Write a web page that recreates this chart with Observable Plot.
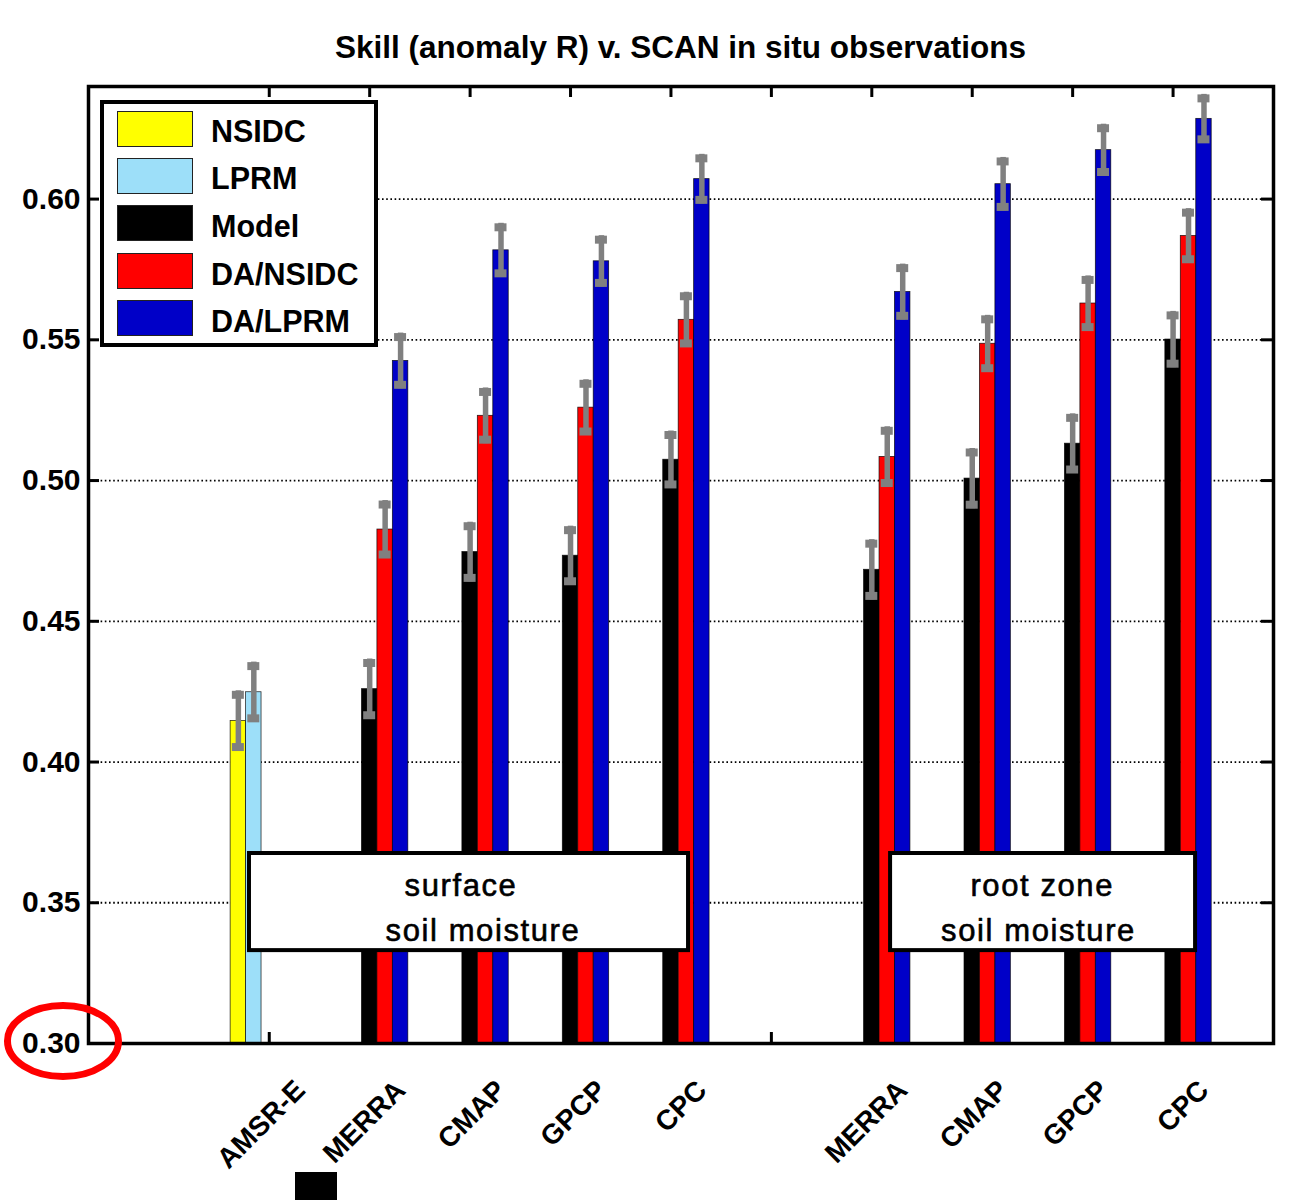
<!DOCTYPE html>
<html>
<head>
<meta charset="utf-8">
<script src="https://cdn.jsdelivr.net/npm/d3@7"></script>
<script src="https://cdn.jsdelivr.net/npm/@observablehq/plot@0.6"></script>
<style>
  body { margin: 0; background: #fff; }
  #wrap { position: relative; width: 1292px; height: 1200px; overflow: hidden;
          font-family: "Liberation Sans", Arial, Helvetica, sans-serif; color: #000; }
  #title { margin-left: 88px; width: 1185px; height: 72px; box-sizing: border-box;
           padding-top: 32px; text-align: center; font-weight: bold; font-size: 31.5px; line-height: 1; }
  #chart svg { display: block; }
  #legend { position: absolute; left: 100px; top: 100px; width: 278px; height: 247px;
            box-sizing: border-box; border: 4px solid #000; background: #fff; }
  .row { position: absolute; left: 13px; height: 36px; display: flex; align-items: center; }
  .sw { width: 76px; height: 36px; box-sizing: border-box; border: 1px solid #222; }
  .lab { margin-left: 18px; font-weight: bold; font-size: 30.5px; padding-top: 6px; }
  #overlay { position: absolute; left: 0; top: 0; pointer-events: none; }
  #blk { position: absolute; left: 295px; top: 1172px; width: 42px; height: 28px; background: #000; }
</style>
</head>
<body>
<div id="wrap">
  <div id="title">Skill (anomaly R) v. SCAN in situ observations</div>
  <div id="chart"></div>
  <div id="legend"></div>
  <div id="blk"></div>
  <svg id="overlay" width="1292" height="1200">
    <ellipse cx="63" cy="1041" rx="55.5" ry="35.5" fill="none" stroke="#ff0000" stroke-width="7"></ellipse>
  </svg>
</div>
<script>
// ---- data ----
const groupLabels = ["AMSR-E", "MERRA", "CMAP", "GPCP", "CPC", "", "MERRA", "CMAP", "GPCP", "CPC"];
const groupPos = [1, 2, 3, 4, 5, 6, 7, 8, 9, 10];
const seriesNames = ["NSIDC", "LPRM", "Model", "DA/NSIDC", "DA/LPRM"];
const seriesColors = ["#ffff00", "#9ddff9", "#000000", "#ff0000", "#0000c8"];

// skill values per group (null = no bar)
const nsidcR    = [0.4146, null, null, null, null, null, null, null, null, null];
const lprmR     = [0.4248, null, null, null, null, null, null, null, null, null];
const modelR    = [null, 0.4259, 0.4746, 0.4733, 0.5074, null, 0.4683, 0.5007, 0.5131, 0.5501];
const daNsidcR  = [null, 0.4826, 0.5230, 0.5259, 0.5571, null, 0.5084, 0.5486, 0.5629, 0.5869];
const daLprmR   = [null, 0.5425, 0.5818, 0.5779, 0.6071, null, 0.5670, 0.6053, 0.6174, 0.6285];

// error bar half-widths
const nsidcErr   = [0.0107, null, null, null, null, null, null, null, null, null];
const lprmErr    = [0.0107, null, null, null, null, null, null, null, null, null];
const modelErr   = [null, 0.0107, 0.0106, 0.0105, 0.0102, null, 0.0107, 0.0107, 0.0106, 0.0100];
const daNsidcErr = [null, 0.0103, 0.0099, 0.0099, 0.0098, null, 0.0107, 0.0101, 0.0098, 0.0097];
const daLprmErr  = [null, 0.0099, 0.0096, 0.0091, 0.0088, null, 0.0099, 0.0095, 0.0092, 0.0087];

const yTicks = [0.30, 0.35, 0.40, 0.45, 0.50, 0.55, 0.60];
const yDomain = [0.30, 0.64];
const xDomain = [-0.8, 11];

// annotation boxes (data units)
const annoBoxes = [
  {x1: 0.803, x2: 5.175, y1: 0.3330, y2: 0.3675},
  {x1: 7.187, x2: 10.224, y1: 0.3330, y2: 0.3675}
];
const annoTexts = [
  {x: 2.909, y: 0.3561, text: "surface"},
  {x: 3.128, y: 0.3401, text: "soil moisture"},
  {x: 8.697, y: 0.3561, text: "root zone"},
  {x: 8.660, y: 0.3401, text: "soil moisture"}
];

// ---- build table ----
const allR = [nsidcR, lprmR, modelR, daNsidcR, daLprmR];
const allE = [nsidcErr, lprmErr, modelErr, daNsidcErr, daLprmErr];
const n = seriesNames.length;
const groupWidth = Math.min(0.8, n / (n + 1.5));
const barW = groupWidth / n;
const rows = [];
allR.forEach((vals, i) => {
  vals.forEach((v, j) => {
    if (v == null) return;
    rows.push({s: seriesNames[i], g: groupPos[j], c: groupPos[j] + (i - (n - 1) / 2) * barW, v, e: allE[i][j]});
  });
});

const W = 1292, H = 1128, mt = 14, mb = 157, ml = 88, mr = 19;
const plotW = W - ml - mr, plotH = H - mt - mb;
const capHalf = 6 / (plotW / (xDomain[1] - xDomain[0]));
const gray = "#808080";
const labeled = groupPos.filter((p, k) => groupLabels[k] !== "");

const chart = Plot.plot({
  width: W, height: H,
  marginTop: mt, marginBottom: mb, marginLeft: ml, marginRight: mr,
  x: {domain: xDomain, axis: null},
  y: {domain: yDomain, axis: null},
  color: {domain: seriesNames, range: seriesColors},
  style: {fontFamily: "'Liberation Sans', Arial, Helvetica, sans-serif", color: "#000", background: "#fff"},
  marks: [
    Plot.ruleY(yTicks.slice(1), {stroke: "#000", strokeWidth: 1.8, strokeDasharray: "1.6,2.6"}),
    Plot.rect(rows, {x1: d => d.c - barW / 2, x2: d => d.c + barW / 2, y1: yDomain[0], y2: "v",
                     fill: "s", stroke: "#000", strokeWidth: 0.8, strokeOpacity: 0.8}),
    Plot.ruleX(rows, {x: "c", y1: d => d.v - d.e, y2: d => d.v + d.e, stroke: gray, strokeWidth: 5.5}),
    Plot.ruleY(rows, {x1: d => d.c - capHalf, x2: d => d.c + capHalf, y: d => d.v + d.e,
                      stroke: gray, strokeWidth: 8, dy: 4}),
    Plot.ruleY(rows, {x1: d => d.c - capHalf, x2: d => d.c + capHalf, y: d => d.v - d.e,
                      stroke: gray, strokeWidth: 8, dy: -4}),
    // inward tick marks
    Plot.ruleY(yTicks, {stroke: "#000", strokeWidth: 3, insetRight: plotW - 11}),
    Plot.ruleY(yTicks, {stroke: "#000", strokeWidth: 3, insetLeft: plotW - 12}),
    Plot.ruleX(groupPos, {stroke: "#000", strokeWidth: 3, insetBottom: plotH - 11}),
    Plot.ruleX(groupPos, {stroke: "#000", strokeWidth: 3, insetTop: plotH - 11}),
    // annotation boxes
    Plot.rect(annoBoxes, {x1: "x1", x2: "x2", y1: "y1", y2: "y2", fill: "#fff", stroke: "#000", strokeWidth: 4}),
    Plot.text(annoTexts, {x: "x", y: "y", text: "text", fontSize: 31, fontWeight: "normal", fill: "#000",
                          stroke: "#000", strokeWidth: 0.6}),
    // axes
    Plot.axisY({ticks: yTicks, tickFormat: d3.format(".2f"), tickSize: 0, tickPadding: 8,
                fontSize: 30, fontWeight: "bold", fill: "#000"}),
    Plot.axisX({ticks: labeled, tickFormat: d => groupLabels[d - 1], tickSize: 0, tickPadding: 42,
                tickRotate: -45, fontSize: 28, fontWeight: "bold", fill: "#000", dx: 31}),
    Plot.frame({stroke: "#000", strokeWidth: 3.5})
  ]
});
document.getElementById("chart").appendChild(chart);

d3.select(chart).selectAll("text")
  .filter(function() { return ["surface", "soil moisture", "root zone"].includes(this.textContent); })
  .style("letter-spacing", "1.6px");

// legend
const leg = d3.select("#legend");
const rowTops = [6.7, 53.5, 101, 149, 196];
seriesNames.forEach((name, i) => {
  const r = leg.append("div").attr("class", "row").style("top", rowTops[i] + "px");
  r.append("div").attr("class", "sw").style("background", seriesColors[i]);
  r.append("div").attr("class", "lab").text(name);
});
</script>
</body>
</html>
